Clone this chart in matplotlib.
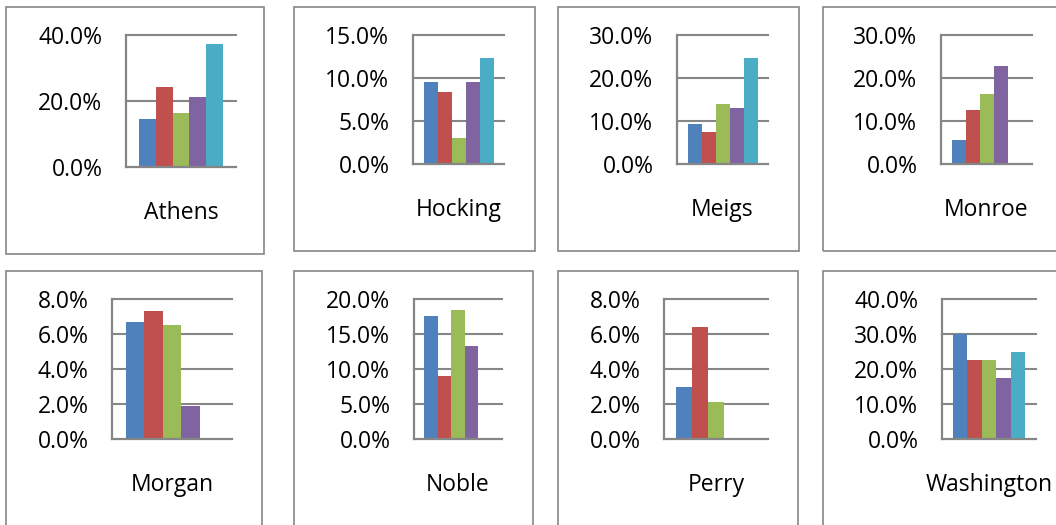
import numpy as np
import matplotlib
matplotlib.use("Agg")
import matplotlib.pyplot as plt
from matplotlib.patches import Rectangle
from matplotlib.transforms import ScaledTranslation

# county names and series values (percent); None = no bar
counties = ["Athens", "Hocking", "Meigs", "Monroe",
            "Morgan", "Noble", "Perry", "Washington"]
athens = [14.5, 24.2, 16.4, 21.2, 37.4]
hocking = [9.5, 8.4, 3.0, 9.5, 12.3]
meigs = [9.3, 7.4, 13.9, 13.0, 24.6]
monroe = [5.6, 12.5, 16.2, 22.7, None]
morgan = [6.7, 7.3, 6.5, 1.9, None]
noble = [17.6, 9.0, 18.5, 13.3, None]
perry = [3.0, 6.4, 2.1, None, None]
washington = [30.0, 22.6, 22.6, 17.4, 24.9]
values = [athens, hocking, meigs, monroe, morgan, noble, perry, washington]

# value-axis ticks for each panel
y_ticks = [
    [0, 20, 40],
    [0, 5, 10, 15],
    [0, 10, 20, 30],
    [0, 10, 20, 30],
    [0, 2, 4, 6, 8],
    [0, 5, 10, 15, 20],
    [0, 2, 4, 6, 8],
    [0, 10, 20, 30, 40],
]

colors = ["#4F81BD", "#C0504D", "#9BBB59", "#8064A2", "#4BACC6"]
line_col = "#868686"

W, H = 1056, 525
fig = plt.figure(figsize=(W / 100, H / 100), dpi=100)
plt.rcParams["font.family"] = ["Open Sans", "DejaVu Sans"]

# chart frames (pixels: left, top, right, bottom)
boxes = [
    (6, 7, 264, 254), (294, 7, 535, 251), (558, 7, 799, 251), (823, 7, 1070, 251),
    (6, 271, 262, 540), (294, 271, 533, 540), (558, 271, 798, 540), (823, 271, 1070, 540),
]
# plot areas (pixels: left, top, right, bottom)
plots = [
    (126, 35, 236, 167), (413, 35, 504, 164), (677, 35, 768, 164), (941, 35, 1032, 164),
    (112, 299, 232, 439), (414, 299, 502, 439), (664, 299, 768, 439), (942, 299, 1036, 439),
]


def px(l, t, r, b):
    return [l / W, 1 - b / H, (r - l) / W, (b - t) / H]


for (l, t, r, b) in boxes:
    fig.add_artist(Rectangle((l / W, 1 - b / H), (r - l) / W, (b - t) / H,
                             transform=fig.transFigure, fill=False,
                             edgecolor=line_col, linewidth=1.2))

n = 5
bw = 1 / 6.5  # 150% gap width
down = ScaledTranslation(0, -4 / 100, fig.dpi_scale_trans)

for name, vals, ticks, box in zip(counties, values, y_ticks, plots):
    ax = fig.add_axes(px(*box))
    for i, v in enumerate(vals):
        if v is None:
            continue
        ax.bar((i - (n - 1) / 2) * bw, v, width=bw, color=colors[i], zorder=3)
    ax.set_xlim(-0.5, 0.5)
    ax.set_ylim(0, ticks[-1])
    for tk in ticks[1:]:
        ax.axhline(tk, color=line_col, lw=1.5, zorder=1, clip_on=False)
    ax.set_yticks(ticks)
    ax.set_yticklabels([f"{tk:.1f}%" for tk in ticks], fontsize=16.5)
    for lbl in ax.get_yticklabels():
        lbl.set_transform(lbl.get_transform() + down)
    ax.tick_params(axis="y", length=0, pad=17)
    ax.set_xticks([])
    ax.annotate(name, (0.5, 0), xycoords="axes fraction", xytext=(0, -33),
                textcoords="offset points", ha="center", va="center", fontsize=16.5)
    for s in ["top", "right"]:
        ax.spines[s].set_visible(False)
    for s in ["left", "bottom"]:
        ax.spines[s].set_color(line_col)
        ax.spines[s].set_linewidth(1.6)
        ax.spines[s].set_zorder(4)
    ax.patch.set_alpha(0)

fig.savefig("out.png", dpi=100)
